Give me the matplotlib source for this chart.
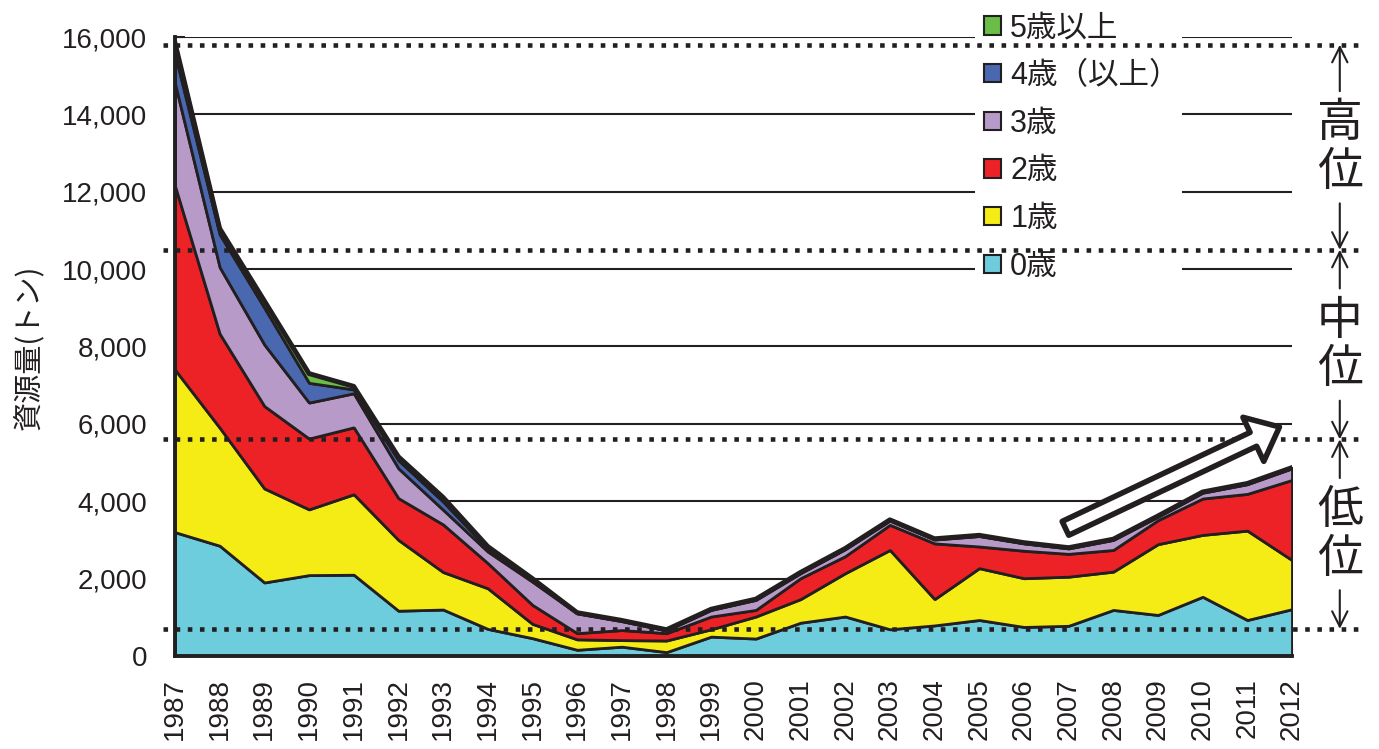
import numpy as np
import matplotlib
matplotlib.use('Agg')
import matplotlib.pyplot as plt
from matplotlib.patches import Rectangle

plt.rcParams['font.family'] = ['Liberation Sans', 'Noto Sans CJK JP']

# data (tons)
years = list(range(1987, 2013))
age0 = [3200, 2850, 1900, 2090, 2100, 1170, 1200, 700, 460, 160, 240, 100, 500,
        450, 860, 1020, 690, 790, 930, 750, 780, 1190, 1060, 1530, 930, 1210]
age1 = [4200, 3050, 2430, 1700, 2080, 1830, 970, 1050, 370, 270, 170, 300, 190,
        570, 610, 1120, 2050, 680, 1340, 1260, 1270, 990, 1830, 1600, 2310, 1270]
age2 = [4750, 2430, 2130, 1830, 1730, 1080, 1230, 650, 490, 160, 260, 190, 330,
        170, 540, 440, 650, 1440, 560, 710, 590, 560, 620, 940, 950, 2070]
age3 = [2650, 1720, 1590, 930, 880, 770, 380, 300, 600, 510, 230, 70, 170,
        260, 130, 180, 110, 100, 270, 190, 140, 260, 90, 150, 250, 300]
age4 = [750, 850, 950, 510, 100, 210, 210, 70, 50, 20, 20, 20, 20,
        20, 20, 20, 20, 20, 20, 20, 20, 20, 20, 20, 20, 20]
age5 = [300, 150, 180, 240, 80, 90, 110, 60, 30, 0, 0, 0, 0,
        0, 0, 0, 0, 0, 0, 0, 0, 0, 0, 0, 0, 0]
labels = ['0歳', '1歳', '2歳', '3歳', '4歳（以上）', '5歳以上']
colors = ['#6dcddd', '#f6ec15', '#ed2227', '#b89ac8', '#4a68b0', '#6abd45']

# stock level boundaries and names
levels = [700, 5600, 10500, 15800]
level_names = ['低\n位', '中\n位', '高\n位']

ink = '#231f20'

fig = plt.figure(figsize=(13.79, 7.49), dpi=100)
ax = fig.add_axes([0.1269, 0.1242, 0.8100, 0.8264])

polys = ax.stackplot(years, age0, age1, age2, age3, age4, age5,
                     colors=colors, labels=labels, edgecolor=ink, linewidth=2, zorder=3,
                     joinstyle='bevel')
total = np.sum([age0, age1, age2, age3, age4, age5], axis=0)
ax.plot(years, total, color=ink, lw=3.5, zorder=4, solid_joinstyle='round')

ax.set_xlim(1987, 2012)
ax.set_ylim(0, 16000)
ax.set_xticks(years)
ax.set_xticklabels([str(y) for y in years], rotation=90, fontsize=20, color=ink)
ax.set_yticks(range(0, 16001, 2000))
ax.set_yticklabels([f'{v:,}' for v in range(0, 16001, 2000)], fontsize=20, color=ink)
ax.tick_params(axis='x', direction='in', length=8, width=1.5, color=ink, pad=16)
ax.tick_params(axis='y', direction='in', length=7, width=1.5, color=ink, pad=20)
ax.yaxis.grid(True, color=ink, lw=1.5)
ax.set_axisbelow(True)
for s in ['top', 'right']:
    ax.spines[s].set_visible(False)
for s in ['left', 'bottom']:
    ax.spines[s].set_linewidth(2.8)
    ax.spines[s].set_color(ink)
    ax.spines[s].set_zorder(5)

fig.text(30 / 1379, 1 - 347 / 749, '資源量(トン)', rotation=90, fontsize=21,
         color=ink, ha='center', va='center', family=['Noto Sans CJK JP'])

# white block behind the legend hides the grid there
ax.add_patch(Rectangle((975 / 1379, 1 - 288 / 749), 207 / 1379, 283 / 749,
                       transform=fig.transFigure, facecolor='white', edgecolor='none',
                       zorder=2, clip_on=False))

# legend, top item first
h, l = ax.get_legend_handles_labels()
leg = ax.legend(h[::-1], l[::-1], loc='upper left',
                bbox_to_anchor=(975 / 1379, 1 - 4 / 749), bbox_transform=fig.transFigure,
                fontsize=22, frameon=False,
                handlelength=0.55, handleheight=0.55, handletextpad=0.3, labelspacing=0.58,
                borderpad=0.3, borderaxespad=0)
leg.set_zorder(5)
for t in leg.get_texts():
    t.set_color(ink)
for p in leg.legend_handles:
    p.set_linewidth(1.5)

# dotted level lines
for lv in levels:
    ax.plot([1986.73, 2013.55], [lv, lv], color=ink, lw=3.3, dashes=(1.0, 1.65),
            dash_capstyle='butt', clip_on=False, zorder=7)

# level names with arrows on the right
xr = 2013.07
for lo, hi, name in zip(levels[:-1], levels[1:], level_names):
    mid = (lo + hi) / 2
    ax.text(xr, mid, name, fontsize=33, color=ink, ha='center', va='center',
            linespacing=1.0, family=['Noto Sans CJK JP'], clip_on=False)
    for start, end in [(mid + 1450, hi), (mid - 1450, lo)]:
        ax.annotate('', xy=(xr, end), xytext=(xr, start),
                    arrowprops=dict(arrowstyle='->,head_length=0.5,head_width=0.25',
                                    color=ink, lw=1.5, shrinkA=0, shrinkB=0,
                                    mutation_scale=22),
                    annotation_clip=False)

# hollow trend arrow
ax.annotate('', xy=(2011.72, 5920), xytext=(2006.93, 3300),
            arrowprops=dict(arrowstyle='simple,head_length=1.6,head_width=2.7,tail_width=0.85',
                            fc='white', ec=ink, lw=4, shrinkA=0, shrinkB=0,
                            mutation_scale=13),
            zorder=8)

fig.savefig('out.png', dpi=100)
